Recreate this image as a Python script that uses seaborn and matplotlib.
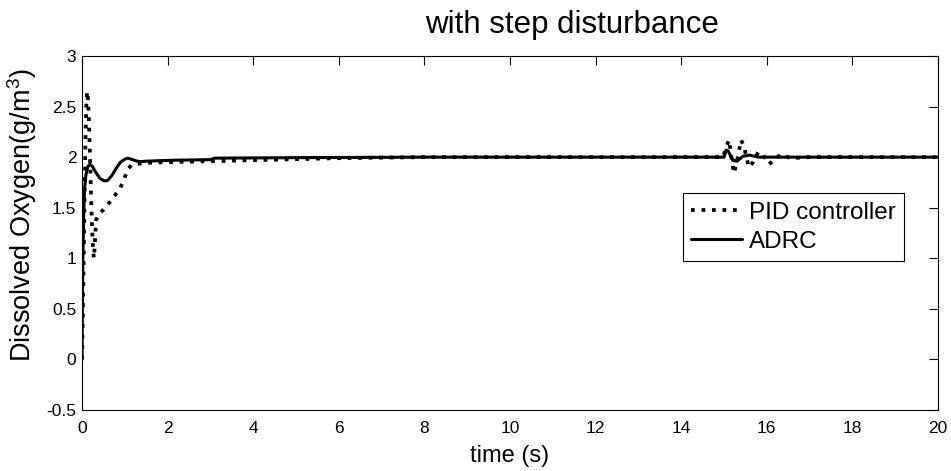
import matplotlib
matplotlib.use("Agg")
import matplotlib.pyplot as plt
import seaborn as sns
import pandas as pd

# ---------------- data ----------------
t_pid = [0, 0.02, 0.04, 0.06, 0.08, 0.10, 0.12, 0.14, 0.16, 0.18, 0.20, 0.22,
         0.24, 0.26, 0.28, 0.30, 0.33, 0.40, 0.50, 0.60, 0.70, 0.80, 0.90,
         1.00, 1.07, 1.15, 1.25, 1.40, 1.60, 2.0, 3.0, 4.0, 6.0, 8.0, 14.98,
         15.05, 15.12, 15.19, 15.23, 15.30, 15.40, 15.47, 15.58, 15.68, 15.80,
         15.90, 16.05, 16.20, 16.33, 16.55, 17.0, 18.0, 20.0]
y_pid = [0, 0.45, 1.0, 1.6, 2.15, 2.5, 2.65, 2.58, 2.38, 2.1, 1.8, 1.5,
         1.25, 1.07, 1.0, 1.15, 1.38, 1.44, 1.48, 1.53, 1.58, 1.64, 1.70,
         1.80, 1.88, 1.92, 1.93, 1.94, 1.945, 1.95, 1.96, 1.97, 1.99, 2.0, 2.0,
         2.10, 2.17, 1.95, 1.84, 1.95, 2.17, 2.10, 1.90, 1.95, 2.05,
         2.03, 1.93, 1.98, 2.03, 1.99, 2.0, 2.0, 2.0]

t_adrc = [0, 0.01, 0.02, 0.04, 0.06, 0.09, 0.13, 0.18, 0.24, 0.32, 0.42, 0.52,
          0.60, 0.70, 0.80, 0.90, 1.00, 1.07, 1.15, 1.25, 1.35, 1.50, 1.80,
          2.20, 3.0, 3.1, 5.0, 8.0, 12.0, 15.0, 15.05, 15.10, 15.20, 15.30,
          15.45, 15.60, 15.80, 16.0, 17.0, 20.0]
y_adrc = [0, 0.6, 1.0, 1.45, 1.68, 1.82, 1.90, 1.93, 1.91, 1.85, 1.79, 1.765,
          1.77, 1.82, 1.89, 1.95, 1.98, 1.99, 1.98, 1.965, 1.955, 1.96, 1.965,
          1.97, 1.975, 1.99, 1.995, 2.0, 2.0, 2.0, 2.07, 2.06, 1.97, 1.96,
          2.01, 2.02, 2.0, 2.0, 2.0, 2.0]

x_ticks = [0, 2, 4, 6, 8, 10, 12, 14, 16, 18, 20]
x_ticklabels = ["0", "2", "4", "6", "8", "10", "12", "14", "16", "18", "20"]
y_ticks = [-0.5, 0, 0.5, 1, 1.5, 2, 2.5, 3]
y_ticklabels = ["-0.5", "0", "0.5", "1", "1.5", "2", "2.5", "3"]

label_pid = "PID controller"
label_adrc = "ADRC"
title_text = "with step disturbance"
xlabel_text = "time (s)"
ylabel_text = r"Dissolved Oxygen(g/m$\mathregular{^3}$)"

# ---------------- style ----------------
sns.set_style("white")
plt.rcParams["font.family"] = ["Liberation Sans", "DejaVu Sans"]
plt.rcParams["mathtext.fontset"] = "custom"
plt.rcParams["mathtext.rm"] = "Liberation Sans"
plt.rcParams["text.color"] = "black"
plt.rcParams["axes.labelcolor"] = "black"
plt.rcParams["xtick.color"] = "black"
plt.rcParams["ytick.color"] = "black"

W, H = 951, 471
fig = plt.figure(figsize=(W / 100, H / 100), dpi=100)
ax = fig.add_axes([82 / W, 1 - 410 / H, 856 / W, 354 / H])

df_pid = pd.DataFrame({"t": t_pid, "y": y_pid})
df_adrc = pd.DataFrame({"t": t_adrc, "y": y_adrc})

sns.lineplot(data=df_pid, x="t", y="y", ax=ax, color="black", linewidth=2.7,
             linestyle=(0, (1, 1.8)), label=label_pid, estimator=None, sort=False)
sns.lineplot(data=df_adrc, x="t", y="y", ax=ax, color="black", linewidth=2.2,
             label=label_adrc, estimator=None, sort=False)
for ln in ax.get_lines():
    ln.set_dash_capstyle("butt")

ax.set_xlim(0, 20)
ax.set_ylim(-0.5, 3)
ax.set_xticks(x_ticks)
ax.set_xticklabels(x_ticklabels)
ax.set_yticks(y_ticks)
ax.set_yticklabels(y_ticklabels)
ax.tick_params(axis="both", direction="in", length=6.2, width=0.8,
               labelsize=12.5, colors="black", top=True, right=True)
ax.tick_params(axis="x", pad=8)
ax.tick_params(axis="y", pad=4)
for sp in ax.spines.values():
    sp.set_visible(True)
    sp.set_color("black")
    sp.set_linewidth(0.8)

ax.set_xlabel(xlabel_text, fontsize=17, color="black")
ax.xaxis.set_label_coords(0.5, -0.1)
ax.set_ylabel(ylabel_text, fontsize=19.5, color="black")
ax.yaxis.set_label_coords(-0.05, 0.55)
ax.set_title(title_text, fontsize=22.5, x=0.572, y=1.065, pad=0, color="black")

handles, labels = ax.get_legend_handles_labels()
leg = ax.legend(handles, labels, loc="upper left", bbox_to_anchor=(0.702, 0.613),
                fontsize=17.5, frameon=True, fancybox=False, edgecolor="black",
                framealpha=1, handlelength=2.1, handletextpad=0.25,
                borderpad=0.35, labelspacing=0.3, borderaxespad=0)
leg.get_frame().set_linewidth(0.8)
for txt in leg.get_texts():
    txt.set_color("black")

fig.savefig("out.png", dpi=100)
